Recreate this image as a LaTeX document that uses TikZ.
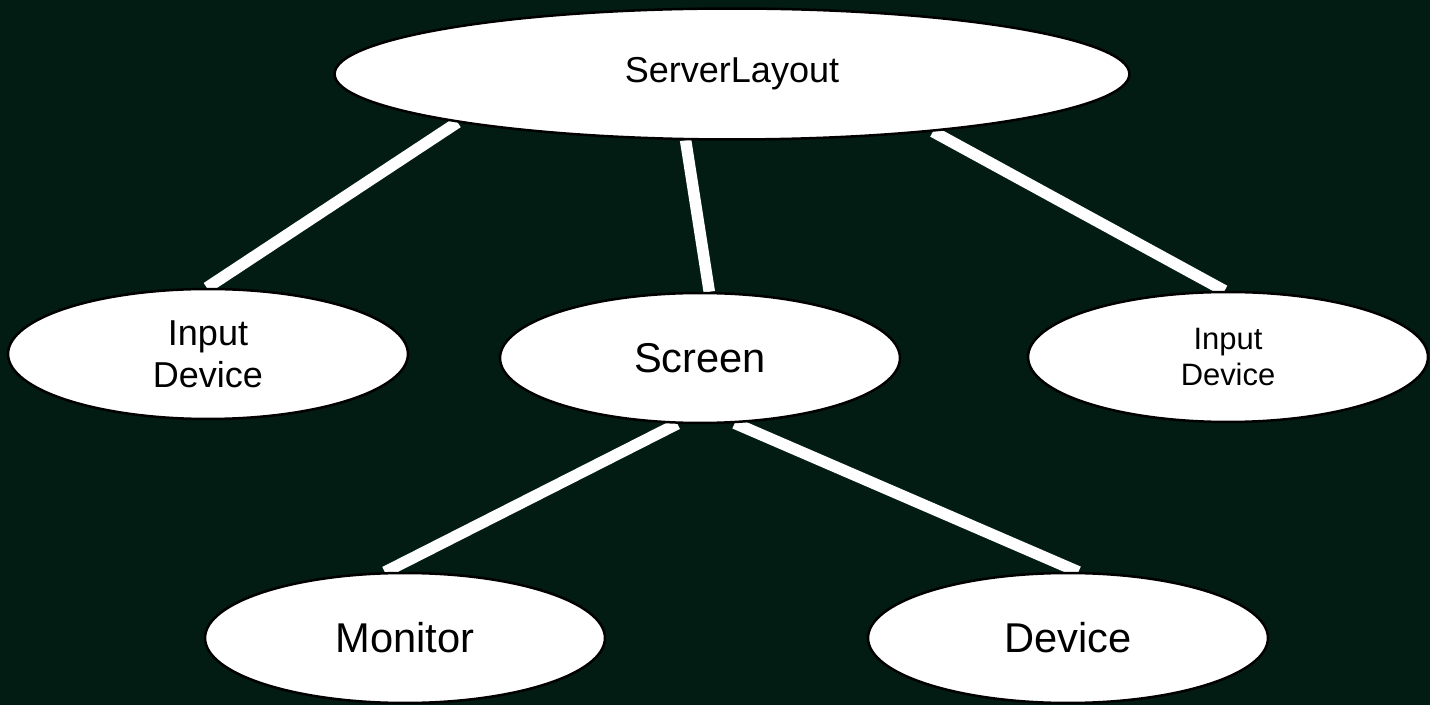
\documentclass[tikz,border=0pt]{standalone}
\usepackage{fontspec}
\setmainfont{Liberation Sans}
\usetikzlibrary{shapes.geometric}
\definecolor{bgdark}{RGB}{2,28,19}
\pgfdeclarelayer{linkbg}
\pgfsetlayers{linkbg,main}
\tikzset{
	blob/.style={ellipse, draw=black, line width=0.05cm, fill=white, inner sep=0pt, minimum width=8cm, minimum height=2.6cm, align=center},
	link/.style={draw=white, line width=0.23cm}
}
\newcommand{\bigtxt}{\fontsize{23.7pt}{28pt}\selectfont}
\newcommand{\midtxt}{\fontsize{20.5pt}{23.8pt}\selectfont}
\newcommand{\smalltxt}{\fontsize{17.6pt}{21pt}\selectfont}

\begin{document}
\begin{tikzpicture}[x=0.02cm, y=-0.02cm]
	\useasboundingbox (0,0) rectangle (1430,705);
	\node [blob, minimum width=15.9cm, minimum height=2.62cm, font=\midtxt] at (732,74) (server) {ServerLayout};
	\node [blob, font=\midtxt] at (208,354) (inleft) {Input\\ Device}; \node [blob, font=\bigtxt] at (700,358) (screen) {Screen}; \node [blob, font=\smalltxt] at (1228,357) (inright) {Input\\ Device};
	\node [blob, font=\bigtxt] at (405,638) (monitor) {Monitor}; \node [blob, font=\bigtxt] at (1068,638) (device) {Device};
	
	\begin{pgfonlayer}{linkbg}
	\fill[bgdark] (0,0) rectangle (1430,705);
	\draw [link] (server.190) -- (inleft.91); \draw [link] (server.235) -- (screen.82); \draw [link] (server.344) -- (inright.93);
	\draw [link] (screen.251) -- (monitor.107); \draw [link] (screen.298) -- (device.81);
	\end{pgfonlayer}
\end{tikzpicture}
\end{document}
